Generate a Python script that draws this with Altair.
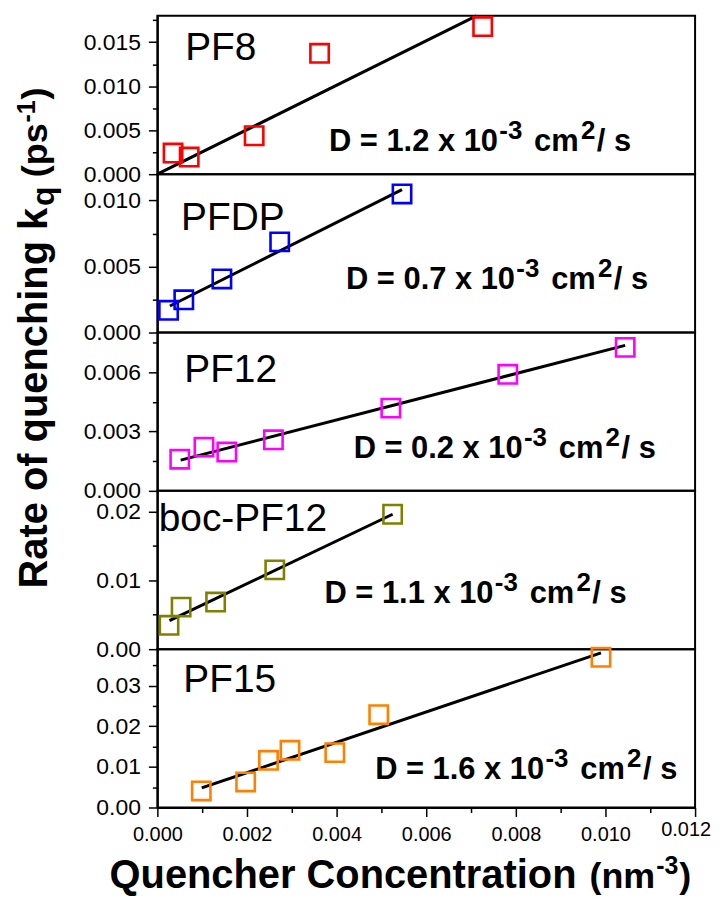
import altair as alt
import pandas as pd

FONT = "Liberation Sans"

# ---------------- data ----------------
x_domain = [0.0, 0.012]
x_ticks = [round(k * 0.001, 3) for k in range(13)]
x_last_label = 0.012

pf8_x = [0.00035, 0.00071, 0.00216, 0.00362, 0.00726]
pf8_y = [0.00240, 0.00195, 0.00437, 0.01374, 0.01678]
pf8_fit_x = [0.0, 0.00712]
pf8_fit_y = [0.0, 0.018]

pfdp_x = [0.00025, 0.00059, 0.00144, 0.00273, 0.00546]
pfdp_y = [0.00168, 0.00248, 0.00406, 0.00687, 0.01050]
pfdp_fit_x = [0.00028, 0.00546]
pfdp_fit_y = [0.00201, 0.01083]

pf12_x = [0.00050, 0.00104, 0.00155, 0.00259, 0.00521, 0.00782, 0.01044]
pf12_y = [0.00160, 0.00221, 0.00196, 0.00258, 0.00418, 0.00589, 0.00725]
pf12_fit_x = [0.00052, 0.01044]
pf12_fit_y = [0.00155, 0.00735]

boc_x = [0.00026, 0.00053, 0.00130, 0.00262, 0.00525]
boc_y = [0.00347, 0.00611, 0.00684, 0.01152, 0.01960]
boc_fit_x = [0.00027, 0.00525]
boc_fit_y = [0.00415, 0.01960]

pf15_x = [0.00098, 0.00197, 0.00248, 0.00296, 0.00396, 0.00494, 0.00990]
pf15_y = [0.00408, 0.00629, 0.01162, 0.01408, 0.01351, 0.02285, 0.03700]
pf15_fit_x = [0.00099, 0.00990]
pf15_fit_y = [0.00482, 0.03810]

names = ["PF8", "PFDP", "PF12", "boc-PF12", "PF15"]
colors = ["#FF0000", "#0000FF", "#FF00FF", "#808000", "#FF8000"]
d_values = ["1.2", "0.7", "0.2", "1.1", "1.6"]

y_domains = [[0, 0.018], [0, 0.012], [0, 0.008], [0, 0.023], [0, 0.039]]
y_major = [[0, 0.005, 0.010, 0.015], [0, 0.005, 0.010], [0, 0.003, 0.006],
           [0, 0.01, 0.02], [0, 0.01, 0.02, 0.03]]
y_minor = [[0.0025, 0.0075, 0.0125, 0.0175], [0.0025, 0.0075], [0.0015, 0.0045, 0.0075],
           [0.005, 0.015], [0.005, 0.015, 0.025, 0.035]]
y_formats = [".3f", ".3f", ".3f", ".2f", ".2f"]

# name label anchors and D-annotation anchors (data coords)
name_pos = [(0.00062, 0.01298), (0.00053, 0.0078), (0.00060, 0.00549),
            (0.00003, 0.0172), (0.00058, 0.02833)]
d_pos = [(0.00383, 0.0026), (0.00421, 0.00331), (0.00438, 0.00166),
         (0.00373, 0.00669), (0.00486, 0.00713)]

series_x = [pf8_x, pfdp_x, pf12_x, boc_x, pf15_x]
series_y = [pf8_y, pfdp_y, pf12_y, boc_y, pf15_y]
fit_x = [pf8_fit_x, pfdp_fit_x, pf12_fit_x, boc_fit_x, pf15_fit_x]
fit_y = [pf8_fit_y, pfdp_fit_y, pf12_fit_y, boc_fit_y, pf15_fit_y]

PANEL_W = 540
PANEL_H = 159


def panel(i):
    bottom = i == 4
    major = y_major[i]
    step = major[1]
    test = f"abs(datum.value / {step} - round(datum.value / {step})) < 1e-6"
    yaxis = alt.Axis(
        values=sorted(major + y_minor[i]),
        format=y_formats[i],
        labelExpr=f"({test}) ? datum.label : ''",
        labelFontSize={"condition": {"test": test, "value": 23}, "value": 0},
        tickSize={"condition": {"test": test, "value": 9}, "value": 5},
        title=None,
    )
    if bottom:
        xmaj = "abs(datum.value / 0.002 - round(datum.value / 0.002)) < 1e-6"
        xlab = f"({xmaj}) && datum.value < 0.0115"
        xaxis = alt.Axis(
            values=x_ticks,
            format=".3f",
            labelExpr=f"({xlab}) ? datum.label : ''",
            labelFontSize={"condition": {"test": xlab, "value": 20}, "value": 0},
            tickSize={"condition": {"test": xmaj, "value": 9}, "value": 5},
            title=None,
        )
    else:
        xaxis = None
    X = alt.X("x:Q", scale=alt.Scale(domain=x_domain, nice=False, zero=False), axis=xaxis)
    Y = alt.Y("y:Q", scale=alt.Scale(domain=y_domains[i], nice=False, zero=False), axis=yaxis)

    pts = pd.DataFrame({"x": series_x[i], "y": series_y[i]})
    fit = pd.DataFrame({"x": fit_x[i], "y": fit_y[i]})

    layers = []
    layers.append(
        alt.Chart(fit).mark_line(color="black", strokeWidth=3, strokeJoin="round")
        .encode(x=X, y=Y)
    )
    layers.append(
        alt.Chart(pts).mark_point(shape="square", filled=False, size=340,
                                  strokeWidth=2.6, color=colors[i], opacity=1)
        .encode(x=X, y=Y)
    )
    nx, ny = name_pos[i]
    layers.append(
        alt.Chart(pd.DataFrame({"x": [nx], "y": [ny]}))
        .mark_text(text=names[i], font=FONT, fontSize=39, align="left",
                   baseline="alphabetic", color="black")
        .encode(x=X, y=Y)
    )
    dx0, dy0 = d_pos[i]
    anchor = pd.DataFrame({"x": [dx0], "y": [dy0]})
    segs = [
        (f"D = {d_values[i]} x 10", 31, 0, 0),
        ("-3", 26, 171, -12),
        ("cm", 31, 206, 0),
        ("2", 26, 253, -12),
        ("/ s", 31, 269, 0),
    ]
    for txt, sz, ddx, ddy in segs:
        layers.append(
            alt.Chart(anchor)
            .mark_text(text=txt, font=FONT, fontSize=sz, fontWeight="bold",
                       align="left", baseline="alphabetic", dx=ddx, dy=ddy,
                       color="black")
            .encode(x=X, y=Y)
        )

    one = pd.DataFrame({"a": [0]})
    if i == 3:
        # y-axis title (rotated), composed of segments
        ysegs = [
            ("Rate of quenching k", 40, 0, 0),
            ("q", 32, 384, 7),
            ("(ps", 36, 413, 0),
            ("-1", 25, 468, -12),
            (")", 36, 491, 0),
        ]
        for txt, sz, ddx, ddy in ysegs:
            layers.append(
                alt.Chart(one)
                .mark_text(text=txt, font=FONT, fontSize=sz, fontWeight="bold",
                           align="left", baseline="alphabetic", angle=270,
                           dx=ddx, dy=ddy, color="black")
                .encode(x=alt.value(-111), y=alt.value(98))
            )
    if bottom:
        # last x tick label, nudged so it stays inside the window
        layers.append(
            alt.Chart(pd.DataFrame({"x": [x_last_label]}))
            .mark_text(text="0.012", font=FONT, fontSize=20, align="center",
                       baseline="top", dx=-9, color="black")
            .encode(x=X, y=alt.value(PANEL_H + 13))
        )
        xsegs = [
            ("Quencher Concentration", 40, 0, 0),
            ("(nm", 36, 482, 0),
            ("-3", 25, 549, -14),
            (")", 36, 572, 0),
        ]
        for txt, sz, ddx, ddy in xsegs:
            layers.append(
                alt.Chart(one)
                .mark_text(text=txt, font=FONT, fontSize=sz, fontWeight="bold",
                           align="left", baseline="alphabetic",
                           dx=ddx, dy=ddy, color="black")
                .encode(x=alt.value(-48), y=alt.value(PANEL_H + 81))
            )
    return alt.layer(*layers).properties(width=PANEL_W, height=PANEL_H)


chart = (
    alt.vconcat(*[panel(i) for i in range(5)], spacing=0, bounds="flush")
    .properties(padding={"left": 5, "top": 1, "right": 0, "bottom": 0})
    .configure_view(stroke="black", strokeWidth=2)
    .configure_axis(
        labelFont=FONT, labelColor="black",
        tickColor="black", tickWidth=1.5, domainColor="black", domainWidth=2,
        grid=False, labelPadding=8, labelFlush=False, labelOverlap=False,
    )
)

chart.save("out.html", embed_options={"renderer": "svg", "actions": False})
